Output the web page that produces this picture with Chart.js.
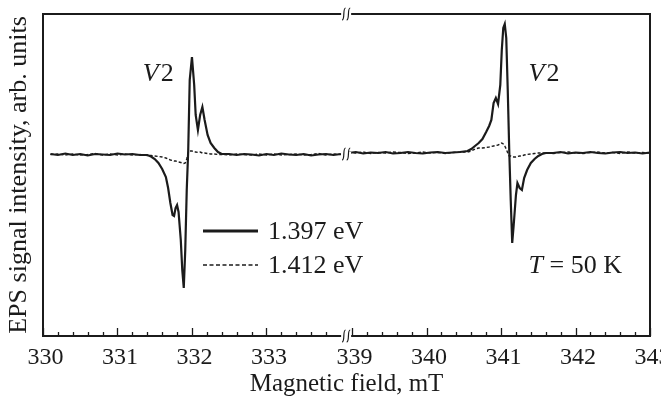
<!DOCTYPE html>
<html>
<head>
<meta charset="utf-8">
<script src="https://cdn.jsdelivr.net/npm/chart.js@4.4.1/dist/chart.umd.min.js"></script>
<style>
  html, body { margin: 0; padding: 0; background: #fff; }
  canvas { display: block; }
</style>
</head>
<body>
<canvas id="epsChart" width="661" height="405"></canvas>
<script>
// Magnetic field (mT), left part of the broken axis
const fieldLeft = [
  330.10, 330.20, 330.30, 330.40, 330.50, 330.60, 330.70, 330.80, 330.90, 331.00, 331.10, 331.20, 331.30, 331.40,
  331.45, 331.50, 331.55, 331.60, 331.65, 331.68, 331.71, 331.74, 331.76, 331.78, 331.80, 331.82, 331.85, 331.87,
  331.89, 331.91, 331.93, 331.95, 331.97, 332.00, 332.03, 332.05, 332.08, 332.11, 332.14, 332.17, 332.21, 332.25,
  332.30, 332.35, 332.40,
  332.50, 332.60, 332.70, 332.80, 332.90, 333.00, 333.10, 333.20, 333.30, 333.40, 333.50, 333.60, 333.70, 333.80,
  333.90, 334.00
];
// 1.397 eV (solid)
const solidLeft = [
  1, 0, 1.5, 0, 1, -0.5, 1, 0.5, 0, 1.5, 0.5, 1, 0, 0,
  -1.5, -4, -8, -14, -22, -33, -48, -60, -61, -53, -50, -57, -85, -115,
  -133, -95, -35, 5, 75, 98, 70, 40, 25, 40, 48, 35, 20, 12,
  7, 3, 1,
  1, 0, 1, 0.5, -0.5, 1, 0, 1.5, 0.5, 0, 1, -0.5, 0.5, 1,
  0, 1
];
// 1.412 eV (dashed)
const dashedLeft = [
  0.5, 1, 0, 1, 0, 0.5, 1.5, 0, 1, 0, 1, 0, 0.5, -0.5,
  -0.5, -1, -1.5, -2, -3, -4, -5, -5.5, -6, -6, -6.5, -7, -7.5, -8,
  -8.5, -8, -4, 2, 4, 4, 3, 3, 2.5, 3, 2, 2, 1.5, 1,
  1, 0.5, 0.5,
  0, 1, 0.5, 0, 1, 0, 1, 0, 0.5, 1, 0, 0.5, 1.5, 0,
  1, 0.5
];

// Magnetic field (mT), right part of the broken axis
const fieldRight = [
  338.95, 339.05, 339.15, 339.25, 339.35, 339.45, 339.55, 339.65, 339.75, 339.85, 339.95, 340.05, 340.15, 340.25,
  340.35, 340.45, 340.55,
  340.60, 340.65, 340.70, 340.75, 340.80, 340.84, 340.87, 340.90, 340.93, 340.96, 340.99, 341.01, 341.03, 341.05,
  341.07, 341.09, 341.11, 341.13, 341.15, 341.17, 341.20, 341.22, 341.25, 341.28, 341.31, 341.35, 341.40, 341.45,
  341.50, 341.55, 341.60,
  341.70, 341.80, 341.90, 342.00, 342.10, 342.20, 342.30, 342.40, 342.50, 342.60, 342.70, 342.80, 342.90, 343.00
];
const solidRight = [
  2, 3, 1.5, 2.5, 2, 3, 1.5, 2, 3, 2, 1.5, 2.5, 3, 2,
  2.5, 3, 4,
  6, 9, 12, 16, 23, 29, 35, 52, 57, 51, 70, 105, 127, 131,
  117, 65, 5, -45, -88, -70, -40, -28, -33, -35, -23, -15, -8, -4,
  -1, 1, 2,
  2, 3, 1.5, 2.5, 2, 3, 2, 1.5, 2.5, 3, 2, 2.5, 1.5, 2.5
];
const dashedRight = [
  2.5, 2, 3, 1.5, 2.5, 2, 3, 2.5, 1.5, 2, 3, 2, 2.5, 1.5,
  2.5, 3, 3,
  4, 6, 7, 7, 7.5, 8, 8.5, 9, 9.5, 10, 11, 12, 11, 9,
  6, 2, -1, -1, -1.5, -2, -2, -1.5, -1, -1, 0, 0.5, 1, 1.5,
  2, 2, 2,
  1.5, 2.5, 3, 2, 1.5, 2.5, 3, 2, 2.5, 1.5, 3, 2, 2.5, 2
];

const tickLabelsLeft = [330, 331, 332, 333];
const tickLabelsRight = [339, 340, 341, 342, 343];
const seriesLabels = ['1.397 eV', '1.412 eV'];

const SHIFT = 4.85;      // the right part is pulled left by this much (axis break)
const BREAK_AT = 334.07; // axis position of the break marks
const INK = '#1b1b1b';
const FONT = "'Liberation Serif', 'Times New Roman', serif";

const toPoints = (xs, ys, shift) => xs.map((x, i) => ({ x: x - shift, y: ys[i] }));
const solidData = toPoints(fieldLeft, solidLeft, 0)
  .concat([{ x: BREAK_AT, y: null }], toPoints(fieldRight, solidRight, SHIFT));
const dashedData = toPoints(fieldLeft, dashedLeft, 0)
  .concat([{ x: BREAK_AT, y: null }], toPoints(fieldRight, dashedRight, SHIFT));

// major ticks carry a label, minor ticks every 0.2 mT
const axisTicks = [];
const addTicks = (labels, shift, last) => {
  labels.forEach((t) => {
    axisTicks.push({ value: t - shift, label: String(t) });
    if (t === last) return;
    for (let k = 1; k < 5; k++) {
      axisTicks.push({ value: Math.round((t + k * 0.2) * 100) / 100 - shift, label: '' });
    }
  });
};
addTicks(tickLabelsLeft, 0, null);
addTicks(tickLabelsRight, SHIFT, 343);

function drawBreak(ctx, cx, cy) {
  ctx.save();
  ctx.fillStyle = '#fff';
  ctx.fillRect(cx - 5, cy - 2, 10, 4);
  ctx.strokeStyle = INK;
  ctx.lineWidth = 1.2;
  [-2.3, 2.3].forEach((dx) => {
    const x0 = cx + dx;
    ctx.beginPath();
    ctx.moveTo(x0 + 1.8, cy - 6);
    ctx.bezierCurveTo(x0 - 1.5, cy - 6, x0 + 1.5, cy + 6, x0 - 1.8, cy + 6);
    ctx.stroke();
  });
  ctx.restore();
}

const decorPlugin = {
  id: 'decor',
  afterDraw(chart) {
    const { ctx, chartArea: a, scales: { x, y } } = chart;
    ctx.save();
    ctx.strokeStyle = INK;

    // frame
    ctx.lineWidth = 2;
    ctx.strokeRect(a.left, a.top, a.right - a.left, a.bottom - a.top);

    // inward tick marks
    ctx.lineWidth = 1.3;
    axisTicks.forEach((t) => {
      const px = Math.round(x.getPixelForValue(t.value)) + 0.5;
      ctx.beginPath();
      ctx.moveTo(px, a.bottom);
      ctx.lineTo(px, a.bottom - (t.label ? 8 : 4));
      ctx.stroke();
    });

    // axis break marks
    const bx = x.getPixelForValue(BREAK_AT);
    [a.top, y.getPixelForValue(1), a.bottom].forEach((by) => drawBreak(ctx, bx, by));

    // legend
    ctx.fillStyle = INK;
    ctx.textBaseline = 'middle';
    ctx.font = `26px ${FONT}`;
    ctx.lineWidth = 3;
    ctx.beginPath(); ctx.moveTo(203, 231); ctx.lineTo(258, 231); ctx.stroke();
    ctx.fillText(seriesLabels[0], 268, 232);
    ctx.lineWidth = 1.5;
    ctx.setLineDash([4, 2.5]);
    ctx.beginPath(); ctx.moveTo(203, 265); ctx.lineTo(258, 265); ctx.stroke();
    ctx.setLineDash([]);
    ctx.fillText(seriesLabels[1], 268, 266);

    // V2 labels
    const v2 = (px, py) => {
      ctx.font = `italic 26px ${FONT}`;
      ctx.fillText('V', px, py);
      const w = ctx.measureText('V').width;
      ctx.font = `26px ${FONT}`;
      ctx.fillText('2', px + w + 2, py);
    };
    v2(x.getPixelForValue(331.34), 74);
    v2(x.getPixelForValue(341.37 - SHIFT), 74);

    // temperature
    let tx = x.getPixelForValue(341.37 - SHIFT);
    ctx.font = `italic 26px ${FONT}`;
    ctx.fillText('T', tx, 266);
    tx += ctx.measureText('T').width;
    ctx.font = `26px ${FONT}`;
    ctx.fillText(' = 50 K', tx, 266);

    ctx.restore();
  }
};

new Chart(document.getElementById('epsChart').getContext('2d'), {
  type: 'line',
  data: {
    datasets: [
      {
        label: seriesLabels[0],
        data: solidData,
        borderColor: INK,
        borderWidth: 2.2,
        pointRadius: 0,
        tension: 0,
        spanGaps: false,
      },
      {
        label: seriesLabels[1],
        data: dashedData,
        borderColor: INK,
        borderWidth: 1.4,
        borderDash: [3, 2],
        pointRadius: 0,
        tension: 0,
        spanGaps: false,
      },
    ],
  },
  options: {
    responsive: false,
    animation: false,
    devicePixelRatio: 1,
    layout: { padding: { top: 14, right: 11, left: 0, bottom: 0 } },
    plugins: {
      legend: { display: false },
      tooltip: { enabled: false },
    },
    scales: {
      x: {
        type: 'linear',
        min: 330,
        max: 343 - SHIFT,
        afterBuildTicks: (scale) => {
          scale.ticks = axisTicks.map((t) => ({ value: t.value }));
        },
        afterFit: (scale) => {
          scale.height = 69;
          scale.paddingLeft = 0;
          scale.paddingRight = 0;
        },
        grid: { display: false, drawTicks: false },
        border: { display: false },
        ticks: {
          autoSkip: false,
          maxRotation: 0,
          padding: 7,
          labelOffset: 2.5,
          color: INK,
          font: { family: FONT, size: 24 },
          callback: (value, index) => axisTicks[index].label,
        },
        title: {
          display: true,
          text: 'Magnetic field, mT',
          color: INK,
          font: { family: FONT, size: 25 },
          padding: { top: 0, bottom: 6 },
        },
      },
      y: {
        min: -181,
        max: 141,
        afterFit: (scale) => { scale.width = 43; },
        grid: { display: false, drawTicks: false },
        border: { display: false },
        ticks: { display: false },
        title: {
          display: true,
          text: 'EPS signal intensity, arb. units',
          color: INK,
          font: { family: FONT, size: 26 },
          padding: { top: 4, bottom: 0 },
        },
      },
    },
  },
  plugins: [decorPlugin],
});
</script>
</body>
</html>
